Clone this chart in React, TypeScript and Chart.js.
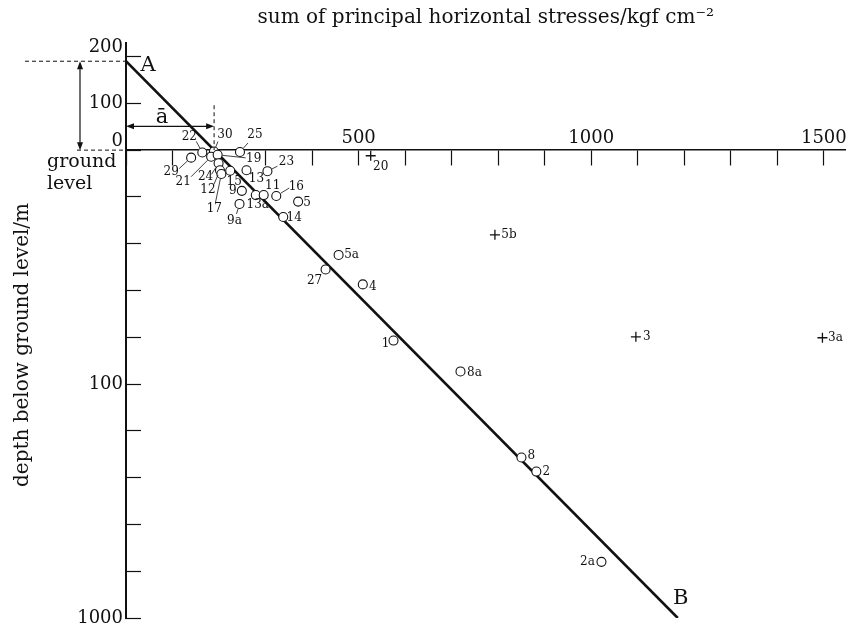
import React, { useEffect, useRef } from 'react';
import { Chart, registerables } from 'chart.js';

Chart.register(...registerables);

const FONT = '"DejaVu Serif", "Liberation Serif", serif';
const INK = '#111111';

// ---- data ----
const circleLabels = ['29', '22', '30', '21', '19', '25', '24', '12', '17', '15', '13', '23', '9', '9a', '13a', '11', '16', '5', '14', '5a', '27', '4', '1', '8a', '8', '2', '2a'];
const circleStress = [140, 164, 189, 183, 197, 245, 199, 202, 205, 224, 259, 304, 249, 244, 279, 296, 323, 370, 338, 457, 429, 509, 575, 719, 850, 882, 1022];
const circleDepth = [16, 5, 3, 14, 10, 4, 28, 43, 51, 44, 43, 45, 87, 115, 96, 96, 98, 110, 143, 224, 255, 287, 407, 473, 657, 687, 880];

const crossLabels = ['20', '5b', '3', '3a'];
const crossStress = [526, 793, 1096, 1497];
const crossDepth = [12, 181, 399, 401];

const lineStress = [0, 1186];
const lineDepth = [-190, 1000];

const xTickValues = [0, 100, 200, 300, 400, 500, 600, 700, 800, 900, 1000, 1100, 1200, 1300, 1400, 1500];
const xTickText: Record<string, string> = { '500': '500', '1000': '1000', '1500': '1500' };
const yTickValues = [-200, -100, 0, 100, 200, 300, 400, 500, 600, 700, 800, 900, 1000];
const yTickText: Record<string, string | string[]> = { '-200': ['200', ''], '-100': '100', '0': ['0', ''], '500': '100', '1000': '1000' };

const TITLE = 'sum of principal horizontal stresses/kgf cm\u207B\u00B2';
const Y_TITLE = 'depth below ground level/m';

// ---- label placement (style: pixel offsets from the mark) ----
type Place = { dx: number; dy: number; lead?: [number, number] };
const placement: Record<string, Place> = {
  '29': { dx: -20, dy: 14, lead: [-12, 11] },
  '22': { dx: -13, dy: -16, lead: [-6, -11] },
  '30': { dx: 11, dy: -17, lead: [4, -10] },
  '21': { dx: -28, dy: 25, lead: [-20, 20] },
  '19': { dx: 36, dy: 4, lead: [28, 3] },
  '25': { dx: 15, dy: -17, lead: [8, -9] },
  '24': { dx: -13, dy: 14, lead: [-7, 11] },
  '12': { dx: -12, dy: 20, lead: [-6, 14] },
  '17': { dx: -7, dy: 35, lead: [-6, 29] },
  '15': { dx: 4, dy: 11 },
  '13': { dx: 10, dy: 9 },
  '23': { dx: 19, dy: -9, lead: [10, -5] },
  '9': { dx: -9, dy: 0 },
  '9a': { dx: -5, dy: 17, lead: [-3, 10] },
  '13a': { dx: 2, dy: 10 },
  '11': { dx: 9, dy: -9 },
  '16': { dx: 20, dy: -9, lead: [13, -8] },
  '5': { dx: 9, dy: 1 },
  '14': { dx: 11, dy: 1 },
  '5a': { dx: 13, dy: 0 },
  '27': { dx: -11, dy: 11 },
  '4': { dx: 10, dy: 2 },
  '1': { dx: -8, dy: 3 },
  '8a': { dx: 14, dy: 1 },
  '8': { dx: 10, dy: -2 },
  '2': { dx: 10, dy: 0 },
  '2a': { dx: -14, dy: 0 },
  '20': { dx: 10, dy: 11 },
  '5b': { dx: 14, dy: 0 },
  '3': { dx: 11, dy: 0 },
  '3a': { dx: 13, dy: 0 },
};

function arrowHead(ctx: CanvasRenderingContext2D, x: number, y: number, ang: number) {
  const L = 8, W = 3;
  ctx.beginPath();
  ctx.moveTo(x, y);
  ctx.lineTo(x - L * Math.cos(ang) + W * Math.sin(ang), y - L * Math.sin(ang) - W * Math.cos(ang));
  ctx.lineTo(x - L * Math.cos(ang) - W * Math.sin(ang), y - L * Math.sin(ang) + W * Math.cos(ang));
  ctx.closePath();
  ctx.fill();
}

const annotate = {
  id: 'annotate',
  afterDatasetsDraw(chart: any) {
    const ctx: CanvasRenderingContext2D = chart.ctx;
    const xs = chart.scales.x;
    const ys = chart.scales.y;
    const area = chart.chartArea;
    ctx.save();
    ctx.strokeStyle = INK;
    ctx.fillStyle = INK;

    // point labels with leader lines
    ctx.font = `12px ${FONT}`;
    ctx.textAlign = 'center';
    ctx.textBaseline = 'middle';
    [0, 1].forEach((di) => {
      const meta = chart.getDatasetMeta(di);
      const labels = di === 0 ? circleLabels : crossLabels;
      meta.data.forEach((el: any, j: number) => {
        const p = placement[labels[j]] || { dx: 10, dy: 0 };
        ctx.fillText(labels[j], el.x + p.dx, el.y + p.dy);
        if (p.lead) {
          const [ax, ay] = p.lead;
          const d = Math.hypot(ax, ay);
          const r = 5;
          ctx.lineWidth = 0.8;
          ctx.beginPath();
          ctx.moveTo(el.x + ax, el.y + ay);
          ctx.lineTo(el.x + (ax / d) * r, el.y + (ay / d) * r);
          ctx.stroke();
        }
      });
    });

    // A, B
    const aX = xs.getPixelForValue(lineStress[0]);
    const aY = ys.getPixelForValue(lineDepth[0]);
    const bX = xs.getPixelForValue(lineStress[1]);
    const bY = ys.getPixelForValue(lineDepth[1]);
    ctx.font = `21px ${FONT}`;
    ctx.textAlign = 'center';
    ctx.fillText('A', aX + 22, aY + 4);
    ctx.fillText('B', bX + 3, bY - 19);

    // ground level dashed lines + vertical double arrow
    const gY = ys.getPixelForValue(0);
    const left = area.left;
    ctx.lineWidth = 1;
    ctx.setLineDash([4, 3]);
    ctx.beginPath();
    ctx.moveTo(left - 101, aY);
    ctx.lineTo(left, aY);
    ctx.moveTo(left - 49, gY);
    ctx.lineTo(left, gY);
    // a-bar vertical dashed
    const t = (0 - lineDepth[0]) / (lineDepth[1] - lineDepth[0]);
    const abarVal = lineStress[0] + t * (lineStress[1] - lineStress[0]);
    const abarX = xs.getPixelForValue(abarVal);
    ctx.moveTo(abarX, ys.getPixelForValue(-96));
    ctx.lineTo(abarX, gY);
    ctx.stroke();
    ctx.setLineDash([]);

    const vX = left - 46;
    ctx.lineWidth = 1.2;
    ctx.beginPath();
    ctx.moveTo(vX, aY + 4);
    ctx.lineTo(vX, gY - 4);
    ctx.stroke();
    arrowHead(ctx, vX, aY, -Math.PI / 2);
    arrowHead(ctx, vX, gY, Math.PI / 2);

    const hY = ys.getPixelForValue(-51);
    ctx.beginPath();
    ctx.moveTo(left + 4, hY);
    ctx.lineTo(abarX - 4, hY);
    ctx.stroke();
    arrowHead(ctx, left, hY, Math.PI);
    arrowHead(ctx, abarX, hY, 0);
    ctx.font = `21px ${FONT}`;
    ctx.fillText('\u0101', (left + abarX) / 2 - 8, hY - 9);

    // ground level text
    ctx.font = `19px ${FONT}`;
    ctx.textAlign = 'left';
    ctx.textBaseline = 'alphabetic';
    ctx.fillText('ground', left - 79, gY + 17);
    ctx.fillText('level', left - 79, gY + 39);

    // y title
    ctx.save();
    ctx.translate(left - 103, area.bottom - 131);
    ctx.rotate(-Math.PI / 2);
    ctx.font = `20px ${FONT}`;
    ctx.textAlign = 'left';
    ctx.textBaseline = 'middle';
    ctx.fillText(Y_TITLE, 0, 0);
    ctx.restore();

    ctx.restore();
  },
};

export default function App() {
  const ref = useRef<HTMLCanvasElement | null>(null);
  useEffect(() => {
    document.body.style.margin = '0';
    const canvas = ref.current;
    if (!canvas) return;
    const chart = new Chart(canvas, {
      type: 'scatter',
      data: {
        datasets: [
          {
            type: 'scatter',
            label: 'measured (circles)',
            data: circleStress.map((x, i) => ({ x, y: circleDepth[i] })),
            pointStyle: 'circle',
            pointRadius: 4.5,
            pointBorderWidth: 1.1,
            pointBorderColor: INK,
            pointBackgroundColor: '#ffffff',
            order: 0,
          } as any,
          {
            type: 'scatter',
            label: 'measured (crosses)',
            data: crossStress.map((x, i) => ({ x, y: crossDepth[i] })),
            pointStyle: 'cross',
            pointRadius: 5,
            pointBorderWidth: 1.3,
            pointBorderColor: INK,
            order: 1,
          } as any,
          {
            type: 'line',
            label: 'A-B',
            data: lineStress.map((x, i) => ({ x, y: lineDepth[i] })),
            borderColor: INK,
            borderWidth: 2.6,
            pointRadius: 0,
            fill: false,
            order: 2,
          } as any,
        ],
      },
      options: {
        responsive: false,
        animation: false,
        devicePixelRatio: 1,
        layout: { padding: { left: 0, right: 2, top: 0, bottom: 9 } },
        plugins: {
          legend: { display: false },
          tooltip: { enabled: false },
          title: {
            display: true,
            text: TITLE,
            fullSize: false,
            color: INK,
            font: { family: FONT, size: 20, weight: 'normal', lineHeight: 1.2 },
            padding: { top: 6, bottom: 13 },
          },
        },
        scales: {
          x: {
            type: 'linear',
            position: { y: 0 } as any,
            min: 0,
            max: 1547,
            afterBuildTicks: (s: any) => {
              s.ticks = xTickValues.map((v) => ({ value: v }));
            },
            afterFit: (s: any) => {
              s.paddingLeft = 0; s.paddingRight = 0; s.paddingTop = 0; s.paddingBottom = 0;
            },
            ticks: {
              autoSkip: false,
              maxRotation: 0,
              minRotation: 0,
              padding: -36,
              color: INK,
              font: { family: FONT, size: 18, lineHeight: 1 },
              callback: (v: any) => xTickText[String(v)] ?? '',
            },
            grid: { drawOnChartArea: false, drawTicks: true, tickLength: 15, tickWidth: 1.2, tickColor: INK },
            border: { display: true, color: INK, width: 1.5 },
          },
          y: {
            type: 'linear',
            position: 'left',
            reverse: true,
            min: -229,
            max: 1000,
            afterBuildTicks: (s: any) => {
              s.ticks = yTickValues.map((v) => ({ value: v }));
            },
            afterFit: (s: any) => {
              s.width = 126; s.paddingTop = 0; s.paddingBottom = 0;
            },
            ticks: {
              autoSkip: false,
              padding: 18,
              color: INK,
              font: { family: FONT, size: 18, lineHeight: 1 },
              callback: (v: any) => yTickText[String(v)] ?? '',
            },
            grid: { drawOnChartArea: false, drawTicks: true, tickLength: -15, tickWidth: 1.2, tickColor: INK },
            border: { display: true, color: INK, width: 2 },
          },
        },
      } as any,
      plugins: [annotate],
    });
    return () => chart.destroy();
  }, []);
  return <canvas ref={ref} width={852} height={627} style={{ display: 'block', width: 852, height: 627 }} />;
}
